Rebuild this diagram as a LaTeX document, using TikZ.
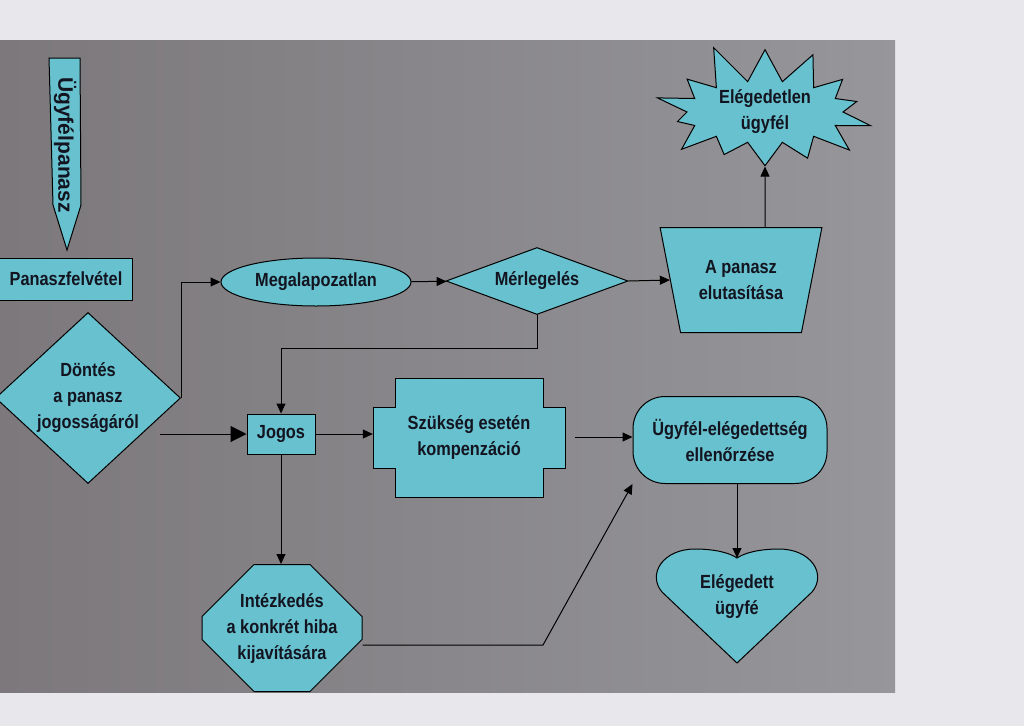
\documentclass[tikz,border=0pt]{standalone}
\usepackage{fontspec}
\newfontfamily\abrafont{Liberation Sans}[FakeStretch=0.86]
\newfontfamily\abraszeles{Liberation Sans}
\usetikzlibrary{shapes.geometric,shapes.misc,shapes.symbols,arrows.meta}
\definecolor{lapszin}{RGB}{232,232,236}
\definecolor{panelbal}{RGB}{124,120,123}
\definecolor{paneljobb}{RGB}{150,150,155}
\definecolor{doboz}{RGB}{104,193,206}
\definecolor{betu}{RGB}{18,20,32}

\begin{document}
\begin{tikzpicture}[x=1pt,y=-1pt,
        alak/.style={draw=black,fill=doboz,line width=1pt,align=center,inner sep=0pt,
            text=betu,font=\abrafont\bfseries\fontsize{19}{26}\selectfont},
        felirat/.style={align=center,inner sep=0pt,text=betu,
            font=\abrafont\bfseries\fontsize{19}{26}\selectfont},
        nyil/.style={-{Triangle[length=10pt,width=9pt]},line width=1pt},
        nagynyil/.style={-{Triangle[length=16pt,width=16pt]},line width=1pt}
    ]
    \useasboundingbox (0,0) rectangle (1024,726);
    \fill[lapszin] (0,0) rectangle (1024,726);
    \shade[left color=panelbal,right color=paneljobb] (0,40) rectangle (895,692);

    \path[alak] (49,58) -- (80,58) -- (81,205) -- (67,250) -- (53,205) -- cycle;
    \node[felirat,rotate=-90,font=\abraszeles\bfseries\fontsize{21}{26}\selectfont] (panasz) at (65,145) {Ügyfélpanasz};
    \node[alak,minimum width=133pt,minimum height=42pt] (felvetel) at (66,279) {Panaszfelvétel};
    \node[alak,diamond,shape aspect=1.08,minimum width=185pt,minimum height=171pt] (dontes) at (88,398) {Döntés\\a panasz\\jogosságáról};
    \node[alak,ellipse,minimum width=190pt,minimum height=48pt] (megal) at (316,282) {Megalapozatlan};
    \node[alak,diamond,shape aspect=2.7,minimum width=182pt,minimum height=67pt] (merl) at (537,281) {Mérlegelés};
    \node[alak,trapezium,shape border rotate=180,trapezium left angle=70,trapezium right angle=70,
        trapezium stretches=true,minimum width=162pt,minimum height=105pt] (elut) at (741,280) {A panasz\\elutasítása};
    \node[alak,starburst,starburst points=14,starburst point height=42pt,random starburst=11,
        minimum width=240pt,minimum height=135pt] (eleg) at (765,112) {Elégedetlen\\ügyfél};
    \node[alak,minimum width=68pt,minimum height=40pt] (jogos) at (281,434) {Jogos};

    \path[alak,shift={(469,437)}] (-74,-59) -- (74,-59) -- (74,-30) -- (96,-30) -- (96,31) -- (74,31)
        -- (74,60) -- (-74,60) -- (-74,31) -- (-96,31) -- (-96,-30) -- (-74,-30) -- cycle;
    \node[felirat,minimum width=192pt,minimum height=61pt] (komp) at (469,437) {Szükség esetén\\kompenzáció};

    \node[alak,rounded corners=32pt,minimum width=194pt,minimum height=87pt] (ellen) at (730,440) {Ügyfél-elégedettség\\ellenőrzése};

    \path[alak,shift={(737,600)}] (0,63) -- (-75,-8) .. controls (-90,-26) and (-74,-51) .. (-42,-51)
        .. controls (-22,-51) and (-7,-47) .. (0,-42) .. controls (7,-47) and (22,-51) .. (42,-51)
        .. controls (74,-51) and (90,-26) .. (75,-8) -- cycle;
    \node[felirat] (eleged) at (737,597) {Elégedett\\ügyfé};
    \coordinate (szivteteje) at (737,558);

    \node[alak,chamfered rectangle,chamfered rectangle xsep=24pt,chamfered rectangle ysep=28pt,
        minimum width=160pt,minimum height=127pt] (intez) at (282,628) {Intézkedés\\a konkrét hiba\\kijavítására};

    \coordinate (dkezd) at (160,434);
    \coordinate (kanyar) at (543,645);

    \draw[nyil] (dontes.east) |- (megal.west);
    \draw[nyil] (megal) -- (merl);
    \draw[nyil] (merl.east) -- (elut.west);
    \draw[nyil] (eleg.center |- elut.north) -- (eleg);
    \draw[nyil] (merl.south) -- ++(0,33) -| (jogos.north);
    \draw[nagynyil] (dkezd) -- (jogos.west);
    \draw[nyil] (jogos.east) -- (jogos.east -| komp.west);
    \draw[nyil,shorten <=10pt] (komp.east) -- (komp.east -| ellen.west);
    \draw[nyil] (jogos.south) -- (jogos.south |- intez.north);
    \draw[nyil] (intez.east |- kanyar) -- (kanyar) -- (ellen.south west);
    \draw[nyil] (ellen.south -| szivteteje) -- (szivteteje);
\end{tikzpicture}
\end{document}
